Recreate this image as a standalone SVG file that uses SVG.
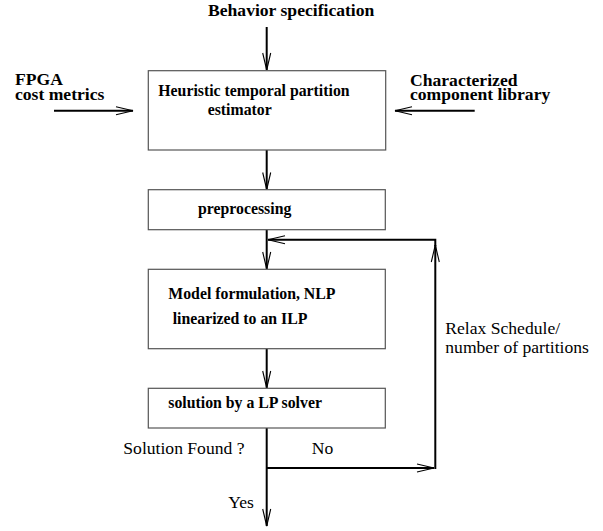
<svg xmlns="http://www.w3.org/2000/svg" width="603" height="531" viewBox="0 0 603 531">
<style>
.box{fill:#fff;stroke:#555;stroke-width:1.2}
.ln{fill:none;stroke:#000;stroke-width:2}
.b{font-family:"Liberation Serif","Times New Roman",serif;font-weight:bold;fill:#000}
.lb{font-size:17.6px}
.nb{font-size:15.8px}
.r{font-family:"Liberation Serif","Times New Roman",serif;font-size:17.6px;fill:#000}
</style>
<defs>
<marker id="ah" markerUnits="userSpaceOnUse" markerWidth="20" markerHeight="10" viewBox="-18 -5 20 10" refX="0" refY="0" orient="auto" overflow="visible">
<path d="M-17,-4 L0,0 L-17,4" fill="none" stroke="#000" stroke-width="1.1"/>
</marker>
</defs>
<rect width="603" height="531" fill="#fff"/>
<g id="connectors">
<path class="ln" d="M266.7,27 V70" marker-end="url(#ah)"/>
<path class="ln" d="M54,110.7 H133" marker-end="url(#ah)"/>
<path class="ln" d="M474.7,110.7 H395" marker-end="url(#ah)"/>
<path class="ln" d="M266.7,150 V189.5" marker-end="url(#ah)"/>
<path class="ln" d="M266.7,229.7 V269" marker-end="url(#ah)"/>
<path class="ln" d="M266.7,348.7 V388" marker-end="url(#ah)"/>
<path class="ln" d="M266.7,428 V526" marker-end="url(#ah)"/>
<path class="ln" d="M266.7,468 H434" marker-end="url(#ah)"/>
<path class="ln" d="M435.3,469 V245" marker-end="url(#ah)"/>
<path class="ln" d="M435.3,246 V239.7 H268" marker-end="url(#ah)"/>
</g>
<g id="behavior-spec"><text class="b lb" x="208" y="16">Behavior specification</text></g>
<g id="fpga-cost"><text class="b lb"><tspan x="15" y="85">FPGA</tspan><tspan x="15" y="100">cost metrics</tspan></text></g>
<g id="component-lib"><text class="b lb"><tspan x="410" y="86">Characterized</tspan><tspan x="410" y="100">component library</tspan></text></g>
<g id="estimator">
<rect class="box" x="148.3" y="70.7" width="237.4" height="79.3"/>
<text class="b nb" x="158.3" y="96">Heuristic temporal partition</text>
<text class="b nb" x="207.7" y="114.5">estimator</text>
</g>
<g id="preprocessing">
<rect class="box" x="148.3" y="189.7" width="237" height="40"/>
<text class="b nb" x="198" y="214">preprocessing</text>
</g>
<g id="model">
<rect class="box" x="148.3" y="269.3" width="237" height="79.4"/>
<text class="b nb" x="168.3" y="298.7">Model formulation, NLP</text>
<text class="b nb" x="172.7" y="323.7">linearized to an ILP</text>
</g>
<g id="solver">
<rect class="box" x="148.3" y="388.3" width="237" height="39.7"/>
<text class="b nb" x="168.3" y="408.3">solution by a LP solver</text>
</g>
<g id="labels">
<text class="r" x="445.3" y="334">Relax Schedule/</text>
<text class="r" x="445.3" y="353.3">number of partitions</text>
<text class="r" x="123.3" y="454">Solution Found ?</text>
<text class="r" x="311.7" y="454">No</text>
<text class="r" x="228.3" y="508">Yes</text>
</g>
</svg>
